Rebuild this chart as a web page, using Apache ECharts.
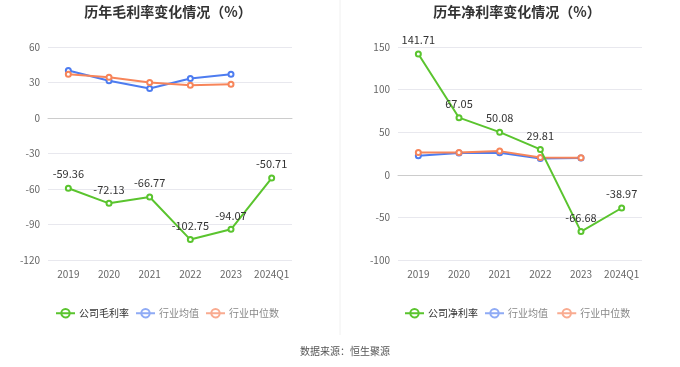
<!DOCTYPE html>
<html><head><meta charset="utf-8">
<script src="https://cdn.jsdelivr.net/npm/echarts@6/dist/echarts.min.js"></script>
<style>html,body{margin:0;padding:0;background:#fff}#c{width:680px;height:367px}</style>
</head><body><div id="c"></div>
<script>
const categories = ['2019','2020','2021','2022','2023','2024Q1'];
const grossCompany = [-59.36, -72.13, -66.77, -102.75, -94.07, -50.71];
const grossIndustryAvg = [40.1, 31.4, 25.0, 33.4, 37.0, null];
const grossIndustryMedian = [37.0, 34.5, 30.0, 27.7, 28.6, null];
const netCompany = [141.71, 67.05, 50.08, 29.81, -66.68, -38.97];
const netIndustryAvg = [22.3, 25.6, 25.8, 19.2, 19.8, null];
const netIndustryMedian = [26.2, 26.2, 27.8, 20.2, 20.0, null];
const leftTicks = {min: -120, max: 60, interval: 30};
const rightTicks = {min: -100, max: 150, interval: 50};

const GREEN = '#5ac42e', BLUE = '#4d7cf0', ORANGE = '#f7855a';
const chart = echarts.init(document.getElementById('c'));
const font = '"Noto Sans CJK SC", "Noto Sans", sans-serif';
function line(name, data, color, xi, labels) {
  return {
    name, type: 'line', data, xAxisIndex: xi, yAxisIndex: xi,
    symbol: 'emptyCircle', symbolSize: 5, showSymbol: true,
    lineStyle: {color, width: 2}, itemStyle: {color, borderWidth: 1.5},
    label: labels ? {show: true, position: 'top', color: '#333', fontSize: 11, fontFamily: font, formatter: p => p.value.toFixed(2)} : {show: false},
    z: labels ? 3 : 2
  };
}
function yAxis(gi, t) {
  return {type: 'value', gridIndex: gi, min: t.min, max: t.max, interval: t.interval,
    axisLine: {show: false}, axisTick: {show: false},
    axisLabel: {color: '#666', fontSize: 10, fontFamily: font},
    splitLine: {lineStyle: {color: '#e8e8ee'}}};
}
function xAxis(gi) {
  return {type: 'category', gridIndex: gi, data: categories, boundaryGap: true,
    axisLine: {lineStyle: {color: '#ccc'}}, axisTick: {show: false},
    axisLabel: {color: '#666', fontSize: 10, fontFamily: font, margin: 9, interval: 0}};
}
function legend(left, names) {
  return {left, top: 303, itemWidth: 19, itemHeight: 10, itemGap: 6, icon: 'path://M0,5L19,5M9.5,0.8A4.2,4.2,0,1,1,9.49,0.8Z',
    textStyle: {fontSize: 10, fontFamily: font, color: '#333', padding: [0, 0, 0, -1]},
    data: [
      {name: names[0], itemStyle: {color: 'transparent', borderColor: GREEN, borderWidth: 2}},
      {name: names[1], itemStyle: {color: 'transparent', borderColor: '#8fabf5', borderWidth: 2}, textStyle: {color: '#888'}},
      {name: names[2], itemStyle: {color: 'transparent', borderColor: '#f9ab90', borderWidth: 2}, textStyle: {color: '#888'}}
    ]};
}
chart.setOption({
  backgroundColor: '#fff',
  animation: false,
  title: [
    {text: '历年毛利率变化情况（%）', left: 163, top: 0, textAlign: 'center', textStyle: {fontSize: 14, fontWeight: 'bold', color: '#333', fontFamily: font}},
    {text: '历年净利率变化情况（%）', left: 512, top: 0, textAlign: 'center', textStyle: {fontSize: 14, fontWeight: 'bold', color: '#333', fontFamily: font}},
    {text: '数据来源：恒生聚源', left: 340, top: 341, textAlign: 'center', textStyle: {fontSize: 10, fontWeight: 'normal', color: '#555', fontFamily: font}}
  ],
  graphic: [{type: 'line', shape: {x1: 340, y1: 0, x2: 340, y2: 335}, style: {stroke: '#f0f0f0', lineWidth: 1}}],
  legend: [
    legend(50, ['公司毛利率','行业均值','行业中位数']),
    legend(399, ['公司净利率','行业均值 ','行业中位数 '])
  ],
  grid: [
    {left: 48, top: 47, width: 244, height: 213},
    {left: 398, top: 47, width: 244, height: 213}
  ],
  xAxis: [xAxis(0), xAxis(1)],
  yAxis: [yAxis(0, leftTicks), yAxis(1, rightTicks)],
  series: [
    line('行业均值', grossIndustryAvg, BLUE, 0, false),
    line('行业中位数', grossIndustryMedian, ORANGE, 0, false),
    line('公司毛利率', grossCompany, GREEN, 0, true),
    line('行业均值 ', netIndustryAvg, BLUE, 1, false),
    line('行业中位数 ', netIndustryMedian, ORANGE, 1, false),
    line('公司净利率', netCompany, GREEN, 1, true)
  ]
});
</script></body></html>
